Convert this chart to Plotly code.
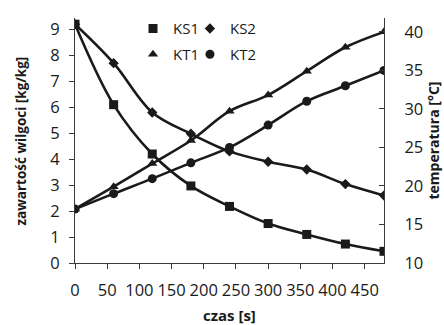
import plotly.graph_objects as go

time_s = [0, 60, 120, 180, 240, 300, 360, 420, 480]
ks1 = [9.2, 6.1, 4.2, 2.97, 2.18, 1.52, 1.1, 0.73, 0.45]
ks2 = [9.2, 7.7, 5.8, 4.98, 4.3, 3.9, 3.6, 3.04, 2.6]
kt1 = [17.0, 19.9, 22.9, 25.9, 29.7, 31.8, 34.9, 38.0, 40.0]
kt2 = [17.0, 19.0, 20.95, 23.0, 25.0, 27.9, 31.0, 33.0, 35.0]

x_ticks = [0, 50, 100, 150, 200, 250, 300, 350, 400, 450]
y1_ticks = [0, 1, 2, 3, 4, 5, 6, 7, 8, 9]
y2_ticks = [10, 15, 20, 25, 30, 35, 40]

FONT = "Open Sans"
INK = "#1a1a1a"
AX = "#3a3a3a"

series = [
    ("KS1", ks1, "y", "square", 9, "legend"),
    ("KS2", ks2, "y", "diamond", 8, "legend2"),
    ("KT1", kt1, "y2", "triangle-up", 9, "legend3"),
    ("KT2", kt2, "y2", "circle", 9, "legend4"),
]

fig = go.Figure()
for name, vals, yax, sym, size, leg in series:
    fig.add_trace(go.Scatter(
        x=time_s, y=vals, yaxis=yax, mode="lines",
        line=dict(color=INK, width=2.6, shape="spline", smoothing=1.0),
        showlegend=False, hoverinfo="skip"))
for name, vals, yax, sym, size, leg in series:
    fig.add_trace(go.Scatter(
        x=time_s, y=vals, yaxis=yax, mode="markers", name=name,
        marker=dict(symbol=sym, size=size, color=INK),
        legend=leg))

leg_common = dict(orientation="h", font=dict(family=FONT, size=15, color=INK),
                  bgcolor="rgba(0,0,0,0)", itemwidth=30,
                  xanchor="left", yanchor="middle")

col1, col2 = 0.1877, 0.372
row1, row2 = 0.956, 0.851

title_font = dict(family=FONT, color=INK)

fig.update_layout(
    width=444, height=325,
    margin=dict(l=75, r=60, t=14, b=62),
    paper_bgcolor="white", plot_bgcolor="white",
    font=dict(family=FONT, size=16.5, color=INK),
    legend=dict(x=col1, y=row1, **leg_common),
    legend2=dict(x=col2, y=row1, **leg_common),
    legend3=dict(x=col1, y=row2, **leg_common),
    legend4=dict(x=col2, y=row2, **leg_common),
    xaxis=dict(
        range=[0, 480], tickvals=x_ticks, showgrid=False, zeroline=False,
        showline=True, linecolor=AX, linewidth=1.2,
        ticks="outside", ticklen=5, tickcolor=AX, ticklabelstandoff=7,
        tickfont=dict(family=FONT, size=16.5, color=INK),
    ),
    yaxis=dict(
        range=[0, 9.44], tickvals=y1_ticks, showgrid=False, zeroline=False,
        showline=True, linecolor=AX, linewidth=1.2,
        ticks="outside", ticklen=5, tickcolor=AX, ticklabelstandoff=6,
        tickfont=dict(family=FONT, size=16.5, color=INK),
    ),
    yaxis2=dict(
        range=[10, 41.8], tickvals=y2_ticks, overlaying="y", side="right", anchor="x",
        showgrid=False, zeroline=False,
        showline=True, linecolor=AX, linewidth=1.2,
        ticks="inside", ticklen=5, tickcolor=AX, ticklabelstandoff=16,
        tickfont=dict(family=FONT, size=16.5, color=INK),
    ),
    annotations=[
        dict(text="<b>czas [s]</b>", xref="paper", yref="paper", x=0.5016, y=-0.2129,
             xanchor="center", yanchor="middle", showarrow=False,
             font=dict(size=15, **title_font)),
        dict(text="<b>zawartość wilgoci [kg/kg]</b>", xref="paper", yref="paper",
             x=-0.1748, y=0.5, xanchor="center", yanchor="middle", textangle=-90,
             showarrow=False, font=dict(size=13.5, **title_font)),
        dict(text="<b>temperatura [°C]</b>", xref="paper", yref="paper",
             x=1.1618, y=0.5, xanchor="center", yanchor="middle", textangle=-90,
             showarrow=False, font=dict(size=14, **title_font)),
    ],
)

fig.write_html("out.html")
